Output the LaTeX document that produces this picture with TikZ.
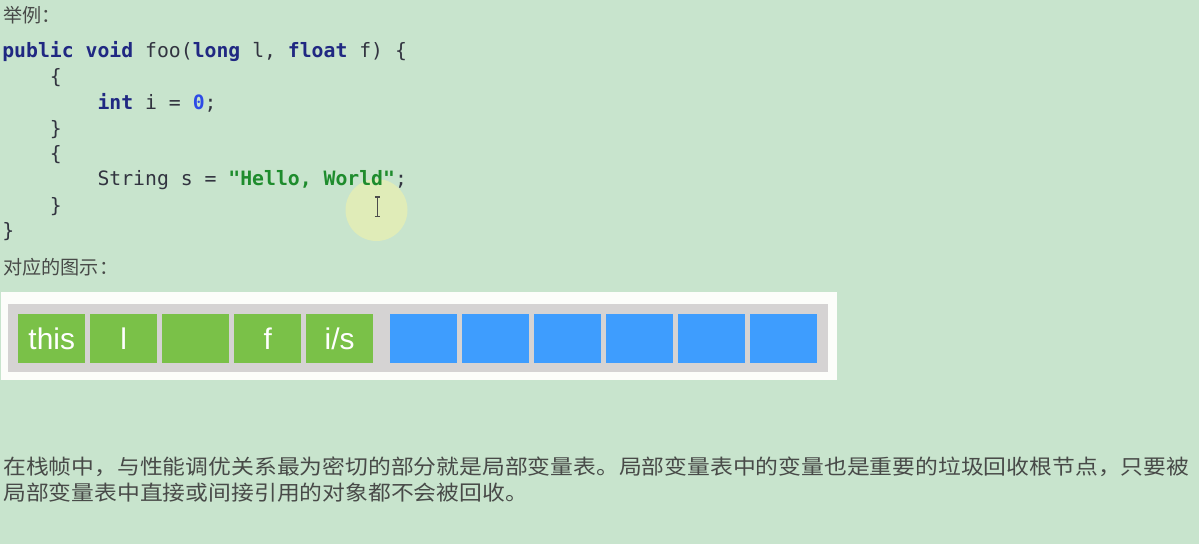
\documentclass[tikz,border=0pt]{standalone}
\usepackage{fontspec}
\usepackage{tikz}
\usetikzlibrary{positioning}
\newfontfamily\cjk{Noto Sans CJK SC}
\newfontfamily\cjkwide[FakeStretch=1.1]{Noto Sans CJK SC}
\newfontfamily\codefont{DejaVu Sans Mono}
\newfontfamily\cellfont{Liberation Sans}
\definecolor{bg}{RGB}{200,228,205}
\definecolor{framegray}{RGB}{213,211,211}
\definecolor{framewhite}{RGB}{252,253,250}
\definecolor{cellgreen}{RGB}{122,193,72}
\definecolor{cellblue}{RGB}{62,157,254}
\definecolor{kwblue}{RGB}{32,40,130}
\definecolor{codegray}{RGB}{50,52,64}
\definecolor{numblue}{RGB}{45,75,230}
\definecolor{strgreen}{RGB}{30,140,45}
\definecolor{textgray}{RGB}{72,74,72}
\definecolor{cursor}{RGB}{240,242,170}
\newcommand{\kw}[1]{\textcolor{kwblue}{\bfseries #1}}
\newcommand{\strg}[1]{\textcolor{strgreen}{\bfseries #1}}
\newcommand{\numb}[1]{\textcolor{numblue}{\bfseries #1}}
\tikzset{node distance=1.44cm, auto,
	heading/.style={anchor=base west, inner sep=0pt, text=textgray, font=\cjk\fontsize{10.9pt}{13pt}\selectfont},
	para/.style={anchor=base west, inner sep=0pt, text=textgray, font=\cjkwide\fontsize{11.8pt}{14pt}\selectfont},
	codeln/.style={anchor=base west, inner sep=0pt, text=codegray, font=\codefont\fontsize{11.25pt}{13pt}\selectfont},
	gcell/.style={fill=cellgreen, minimum width=1.34cm, minimum height=0.98cm, inner sep=0pt,
		text=white, text height=12.2pt, text depth=0pt, font=\cellfont\fontsize{17pt}{20pt}\selectfont},
	bcell/.style={gcell, fill=cellblue}}

\begin{document}
\begin{tikzpicture}[x=0.02cm, y=-0.02cm]
		\useasboundingbox (0,0) rectangle (1199,544);
		\fill[bg] (0,0) rectangle (1199,544);
		% cursor
		\fill[cursor, opacity=0.6] (376.5,210) circle (31);
		\draw[black!70, line width=0.6pt] (377.3,197) -- (377.3,216.5)
			(374.8,197) -- (379.8,197) (374.8,216.5) -- (379.8,216.5);
		% heading and code
		\node[heading](ex) at (3,22.7){举例：};
		\node[codeln](c1) at (2,58){\kw{public} \kw{void} foo(\kw{long} l, \kw{float} f) \{};
		\node[codeln](c2) at (49.6,83.7){\{};
		\node[codeln](c3) at (97.2,109.4){\kw{int} i = \numb{0};};
		\node[codeln](c4) at (49.6,135.1){\}};
		\node[codeln](c5) at (49.6,160.8){\{};
		\node[codeln](c6) at (97.2,185.5){String s = \strg{"Hello, World"};};
		\node[codeln](c7) at (49.6,212.2){\}};
		\node[codeln](c8) at (2,237.9){\}};
		\node[heading](fig) at (3,274.7){对应的图示：};
		% local variable table
		\fill[framewhite] (1,292) rectangle (837,380);
		\fill[framegray] (8,304) rectangle (828,372);
		\node[gcell](this) at (51.7,338.5){this};
		\node[gcell](l)[right of=this]{l};
		\node[gcell](empty)[right of=l]{};
		\node[gcell](f)[right of=empty]{f};
		\node[gcell](is)[right of=f]{i/s};
		\node[bcell](b1) at (423.3,338.5){};
		\node[bcell](b2)[right of=b1]{};
		\node[bcell](b3)[right of=b2]{};
		\node[bcell](b4)[right of=b3]{};
		\node[bcell](b5)[right of=b4]{};
		\node[bcell](b6)[right of=b5]{};
		% description
		\node[para](d1) at (3,474.5){在栈帧中，与性能调优关系最为密切的部分就是局部变量表。局部变量表中的变量也是重要的垃圾回收根节点，只要被};
		\node[para](d2) at (3,500.5){局部变量表中直接或间接引用的对象都不会被回收。};
	\end{tikzpicture}
\end{document}
